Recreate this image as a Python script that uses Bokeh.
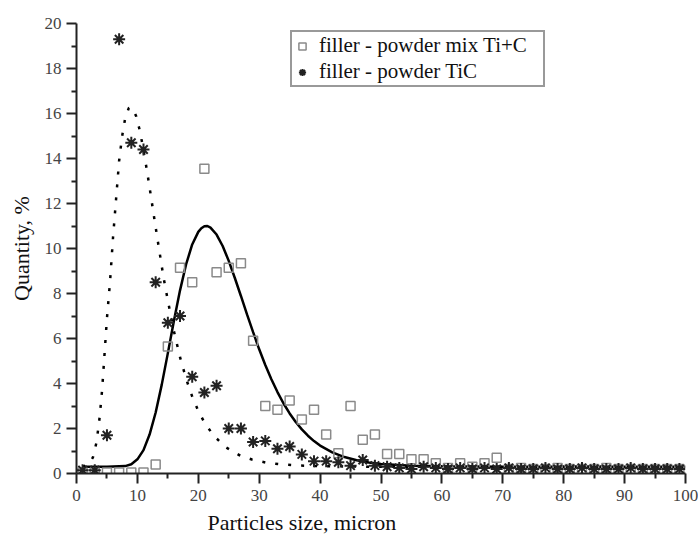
from bokeh.plotting import figure
from bokeh.models import Legend, LegendItem, Range1d, Title, FixedTicker
from bokeh.embed import file_html
from bokeh.resources import INLINE

# ---- data ----
size_x = [1, 3, 5, 7, 9, 11, 13, 15, 17, 19, 21, 23, 25, 27, 29, 31, 33, 35, 37, 39,
          41, 43, 45, 47, 49, 51, 53, 55, 57, 59, 61, 63, 65, 67, 69, 71, 73, 75, 77, 79,
          81, 83, 85, 87, 89, 91, 93, 95, 97, 99]

mix_ti_c = [0.05, 0.05, 0.05, 0.05, 0.05, 0.05, 0.4,
            5.65, 9.15, 8.5, 13.55, 8.95, 9.15, 9.35, 5.9, 3.0, 2.83, 3.25, 2.4, 2.83,
            1.73, 0.9, 3.0, 1.5, 1.73,
            0.87, 0.87, 0.63, 0.63, 0.46, 0.25, 0.46, 0.3, 0.46, 0.7,
            0.2, 0.25, 0.2, 0.2, 0.25, 0.2, 0.2, 0.2, 0.25, 0.2, 0.2, 0.2, 0.2, 0.2, 0.2]

tic = [0.15, 0.15, 1.7, 19.3, 14.7, 14.4, 8.5, 6.7, 7.0, 4.3, 3.6, 3.9, 2.0, 2.0, 1.4,
       1.45, 1.1, 1.2, 0.85, 0.55, 0.55, 0.5, 0.35, 0.6, 0.35,
       0.3, 0.25, 0.2, 0.3, 0.25, 0.2, 0.25, 0.2, 0.25, 0.2, 0.25, 0.2, 0.2, 0.25, 0.2,
       0.2, 0.25, 0.2, 0.2, 0.2, 0.25, 0.2, 0.2, 0.2, 0.2]

# fitted curve, Ti+C (solid)
fit_mix_x = [1, 5, 8, 9, 10, 11, 12, 13, 14, 15, 16, 17, 18, 19, 20, 20.5, 21, 21.5, 22,
             23, 24, 25, 26, 27, 28, 29, 30, 31, 32, 33, 34, 35, 36, 37, 38, 39, 40, 42,
             44, 46, 48, 50, 55, 60, 70, 100]
fit_mix_y = [0.3, 0.3, 0.33, 0.41, 0.63, 1.04, 1.73, 2.71, 3.95, 5.35, 6.79, 8.14, 9.3,
             10.18, 10.74, 10.9, 10.99, 11.0, 10.93, 10.62, 10.11, 9.45, 8.69, 7.89, 7.07,
             6.28, 5.52, 4.82, 4.19, 3.62, 3.11, 2.67, 2.29, 1.96, 1.68, 1.44, 1.24, 0.94,
             0.73, 0.59, 0.49, 0.42, 0.34, 0.32, 0.3, 0.3]

# fitted curve, TiC (dotted)
fit_tic_x = [1, 2, 2.7, 3.3, 3.8, 4.2, 4.6, 5.0, 5.5, 6.0, 6.5, 7.0, 7.5, 8.0, 8.6, 9.2,
             9.8, 10.4, 11.0, 11.6, 12.2, 12.8, 13.5, 14.3, 15.0, 16.0, 17.0, 18.0, 19.0,
             20.0, 21.0, 22.5, 24.5, 26.7, 28.8, 31.2, 33.5, 36, 40, 45, 50, 60, 100]
fit_tic_y = [0.3, 0.4, 0.72, 1.4, 2.5, 3.7, 5.3, 6.9, 8.5, 10.5, 12.2, 13.9, 15.0, 15.8,
             16.25, 16.25, 15.88, 15.23, 14.38, 13.41, 12.36, 11.29, 10.07, 8.7, 7.68,
             6.32, 5.17, 4.21, 3.42, 2.78, 2.27, 1.69, 1.17, 0.82, 0.62, 0.48, 0.41, 0.36,
             0.33, 0.31, 0.3, 0.3, 0.3]

x_ticks = [0, 10, 20, 30, 40, 50, 60, 70, 80, 90, 100]
x_minor = [5, 15, 25, 35, 45, 55, 65, 75, 85, 95]
y_ticks = [0, 2, 4, 6, 8, 10, 12, 14, 16, 18, 20]
y_minor = [1, 3, 5, 7, 9, 11, 13, 15, 17, 19]

SERIF = "Liberation Serif"

p = figure(width=698, height=543, output_backend="svg", toolbar_location=None,
           x_range=Range1d(0, 100), y_range=Range1d(0, 20),
           min_border_left=76, min_border_top=23, min_border_right=13,
           min_border_bottom=70)
p.outline_line_color = None
p.grid.visible = False
p.background_fill_color = "white"

# curves
p.line(fit_tic_x, fit_tic_y, line_color="black", line_width=2.5, line_dash="3 10")
p.line(fit_mix_x, fit_mix_y, line_color="black", line_width=2.5)

# markers
r_mix = p.scatter(size_x, mix_ti_c, marker="square", size=9, fill_color=None,
                  line_color="#8a8a8a", line_width=1.5)
r_tic = p.scatter(size_x, tic, marker="asterisk", size=12, line_color="#222222",
                  line_width=2)

for ax in (p.xaxis[0], p.yaxis[0]):
    ax.axis_line_width = 2
    ax.axis_line_color = "#222222"
    ax.major_tick_line_width = 2
    ax.minor_tick_line_width = 2
    ax.major_tick_line_color = "#222222"
    ax.minor_tick_line_color = "#222222"
    ax.major_tick_out = 10
    ax.major_tick_in = 0
    ax.minor_tick_out = 5
    ax.minor_tick_in = 0
    ax.major_label_text_font = SERIF
    ax.major_label_text_font_size = "17px"
    ax.major_label_text_color = "#444444"

p.xaxis[0].major_label_standoff = 6
p.xaxis[0].ticker = FixedTicker(ticks=x_ticks, minor_ticks=x_minor)
p.yaxis[0].ticker = FixedTicker(ticks=y_ticks, minor_ticks=y_minor)

p.yaxis[0].axis_label = "Quantity, %"
p.yaxis[0].axis_label_text_font = SERIF
p.yaxis[0].axis_label_text_font_size = "22px"
p.yaxis[0].axis_label_text_font_style = "normal"
p.yaxis[0].axis_label_text_color = "#111111"
p.yaxis[0].axis_label_standoff = 8

xt = Title(text="Particles size, micron", align="left", offset=131,
           text_font=SERIF, text_font_size="22px", text_font_style="normal",
           text_color="#111111", standoff=8)
p.add_layout(xt, "below")

legend = Legend(items=[LegendItem(label="filler - powder mix Ti+C", renderers=[r_mix]),
                       LegendItem(label="filler - powder TiC", renderers=[r_tic])],
                location=(214, 386), label_text_font=SERIF, label_text_font_size="21px",
                label_text_color="#111111", border_line_color="#333333",
                border_line_width=2, padding=1, spacing=1, label_standoff=8,
                glyph_width=18, glyph_height=22, label_height=22, label_width=223,
                margin=0, background_fill_alpha=1.0)
p.add_layout(legend)

open("out.html", "w").write(file_html(p, INLINE))
